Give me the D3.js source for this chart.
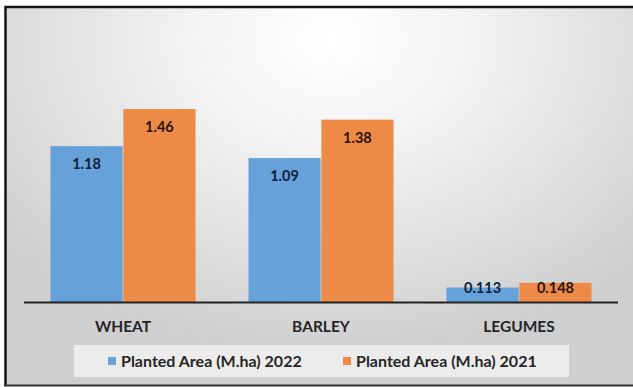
<!DOCTYPE html>
<html>
<head>
<meta charset="utf-8">
<script src="https://cdn.jsdelivr.net/npm/d3@7"></script>
<style>
  html, body { margin: 0; padding: 0; background: #ffffff; }
  svg { display: block; }
  text { font-family: Lato, "Open Sans", sans-serif; font-weight: bold; }
</style>
</head>
<body>
<svg id="chart" width="633" height="387"></svg>
<script>
// ---- data ----
const categories = ["WHEAT", "BARLEY", "LEGUMES"];
const seriesNames = ["Planted Area (M.ha) 2022", "Planted Area (M.ha) 2021"];
const values2022 = [1.18, 1.09, 0.113];
const values2021 = [1.46, 1.38, 0.148];
const valueLabels2022 = ["1.18", "1.09", "0.113"];
const valueLabels2021 = ["1.46", "1.38", "0.148"];

const colors = ["#66a1d9", "#ee8a48"];
const W = 633, H = 387;
const svg = d3.select("#chart");

// background gradient
const defs = svg.append("defs");
const grad = defs.append("radialGradient").attr("id", "bg")
  .attr("gradientUnits", "userSpaceOnUse")
  .attr("cx", 330).attr("cy", 40).attr("r", 420)
  .attr("gradientTransform", "translate(330,40) scale(1,0.75) translate(-330,-40)");
grad.append("stop").attr("offset", "0%").attr("stop-color", "#ffffff");
grad.append("stop").attr("offset", "35%").attr("stop-color", "#f2f2f2");
grad.append("stop").attr("offset", "100%").attr("stop-color", "#cfcfcf");

svg.append("rect").attr("x", 5).attr("y", 7).attr("width", 640).attr("height", 378)
  .attr("fill", "url(#bg)");
// frame (top, left, bottom)
svg.append("path").attr("d", "M5.5,386 L5.5,7 L640,7").attr("fill", "none")
  .attr("stroke", "#151515").attr("stroke-width", 2.5);
svg.append("line").attr("x1", 4).attr("x2", 640).attr("y1", 385.5).attr("y2", 385.5)
  .attr("stroke", "#333").attr("stroke-width", 2);

// scales
const baseY = 302.5;
const x0 = d3.scaleBand().domain(categories).range([24, 618])
  .paddingInner(0.26).paddingOuter(0.13);
const x1 = d3.scaleBand().domain(seriesNames).range([0, x0.bandwidth()]).padding(0.01);
const y = d3.scaleLinear().domain([0, 1.6]).range([baseY, baseY - 1.6 * 132.5]);

const data = categories.map((c, i) => ({
  cat: c,
  vals: [
    { s: seriesNames[0], v: values2022[i], lab: valueLabels2022[i], ci: 0 },
    { s: seriesNames[1], v: values2021[i], lab: valueLabels2021[i], ci: 1 }
  ]
}));

const groups = svg.append("g").selectAll("g").data(data).join("g")
  .attr("transform", d => `translate(${x0(d.cat)},0)`);

groups.selectAll("rect").data(d => d.vals).join("rect")
  .attr("x", d => x1(d.s))
  .attr("y", d => y(d.v))
  .attr("width", x1.bandwidth())
  .attr("height", d => baseY - y(d.v))
  .attr("fill", d => colors[d.ci]);

groups.selectAll("text.val").data(d => d.vals).join("text")
  .attr("class", "val")
  .attr("x", d => x1(d.s) + x1.bandwidth() / 2)
  .attr("y", d => Math.min(y(d.v) + 23, baseY - 10))
  .attr("text-anchor", "middle")
  .attr("font-size", 14.5)
  .attr("fill", d => d.ci === 0 ? "#0f1f3a" : "#2a1508")
  .text(d => d.lab);

// x axis
const xAxis = d3.axisBottom(x0).tickSize(0).tickPadding(18);
const ax = svg.append("g").attr("transform", `translate(0,${baseY})`).call(xAxis);
ax.select(".domain").attr("stroke", "#222").attr("stroke-width", 2)
  .attr("d", "M24,0H618");
ax.selectAll(".tick text").attr("font-size", 15.5).attr("fill", "#262626")
  .attr("font-family", "Lato, sans-serif").attr("font-weight", "bold")
  .attr("dy", "0.71em");

// legend
const lg = svg.append("g");
lg.append("rect").attr("x", 74).attr("y", 345).attr("width", 495).attr("height", 32)
  .attr("fill", "#ececec");
const legX = [108, 343];
seriesNames.forEach((s, i) => {
  lg.append("rect").attr("x", legX[i]).attr("y", 357).attr("width", 8).attr("height", 8)
    .attr("fill", colors[i]);
  lg.append("text").attr("x", legX[i] + 13).attr("y", 366.5)
    .attr("font-size", 16).attr("fill", "#262626").text(s);
});
</script>
</body>
</html>
